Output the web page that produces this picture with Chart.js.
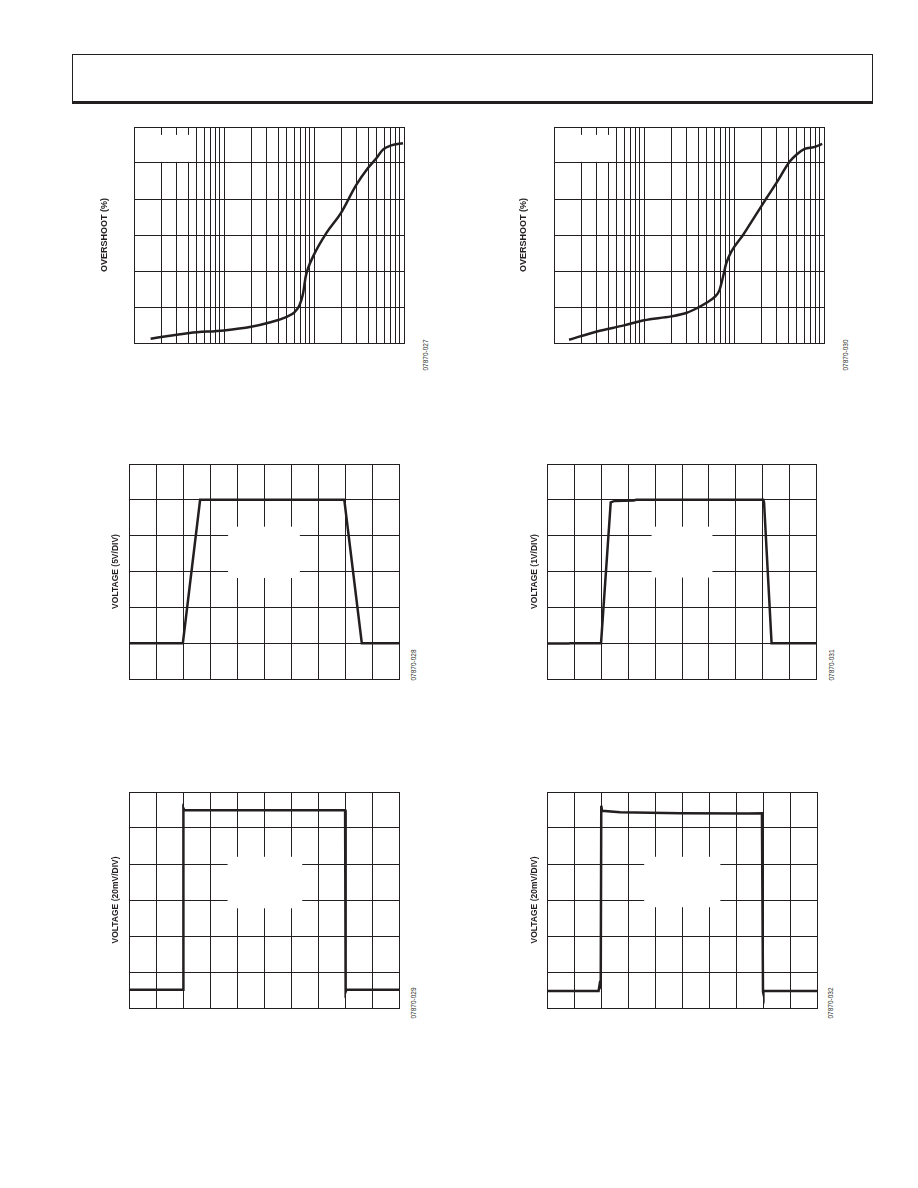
<!DOCTYPE html>
<html>
<head>
<meta charset="utf-8">
<script src="https://cdn.jsdelivr.net/npm/chart.js@4.4.1/dist/chart.umd.min.js"></script>
<style>
  html, body { margin:0; padding:0; background:#fff; }
  body { width:918px; height:1188px; position:relative; overflow:hidden; font-family:"Liberation Sans", Arial, sans-serif; }
  .header { position:absolute; left:72px; top:54px; width:799px; height:46px; border:1px solid #231f20; border-bottom:3px solid #231f20; }
  canvas { position:absolute; }
  .fig { position:absolute; font-size:6.5px; color:#231f20; white-space:nowrap; transform:translate(-50%,-50%) rotate(-90deg); }
</style>
</head>
<body>
<div class="header"></div>

<canvas id="c1"></canvas>
<canvas id="c2"></canvas>
<canvas id="c3"></canvas>
<canvas id="c4"></canvas>
<canvas id="c5"></canvas>
<canvas id="c6"></canvas>

<div class="fig" style="left:425px;top:355px">07870-027</div>
<div class="fig" style="left:845px;top:355px">07870-030</div>
<div class="fig" style="left:413px;top:665px">07870-028</div>
<div class="fig" style="left:831px;top:665px">07870-031</div>
<div class="fig" style="left:413px;top:1003px">07870-029</div>
<div class="fig" style="left:830px;top:1003px">07870-032</div>

<script>
// ===== data (y in divisions, x in freq / time divisions) =====
const logDecades = [1, 10, 100];
const logMantissas = [1, 2, 3, 4, 5, 6, 7, 8, 9];
const logMax = 1000;

// overshoot vs. load (left)
const freqA = [1.53, 3, 4.15, 10, 20, 32, 49, 61, 69, 75.5, 80.8, 85.7, 97.5, 137, 198, 295, 398, 493, 584, 723, 975];
const overA = [0.12, 0.23, 0.28, 0.35, 0.45, 0.57, 0.72, 0.86, 1.05, 1.37, 1.84, 2.07, 2.40, 3.05, 3.60, 4.39, 4.86, 5.13, 5.37, 5.49, 5.55];
// overshoot vs. load (right)
const freqB = [1.47, 3, 6, 10, 20, 30, 39, 49, 61, 69, 75.5, 82, 93, 126, 170, 229, 295, 416, 493, 610, 774, 955];
const overB = [0.09, 0.32, 0.49, 0.63, 0.74, 0.84, 0.97, 1.11, 1.28, 1.47, 1.84, 2.21, 2.53, 3.0, 3.51, 4.02, 4.44, 5.04, 5.23, 5.39, 5.44, 5.53];

// large signal 5V/DIV
const t3 = [0, 1.98, 2.62, 7.97, 8.62, 10];
const v3 = [1, 1, 5, 5, 1, 1];
// large signal 1V/DIV
const t4 = [0, 0.8, 0.85, 1.99, 2.35, 2.5, 3.2, 3.3, 8.02, 8.05, 8.33, 10];
const v4 = [0.99, 0.99, 1, 1, 4.93, 4.97, 4.98, 5, 5, 4.93, 1, 1];
// small signal 20mV/DIV (left)
const t5 = [0, 2, 2, 2.04, 8, 8.02, 8.05, 10];
const v5 = [0.51, 0.51, 5.55, 5.49, 5.49, 0.45, 0.51, 0.51];
// small signal 20mV/DIV (right)
const t6 = [0, 1.91, 1.95, 1.99, 2.01, 2.04, 2.71, 4.94, 7.41, 7.96, 8.0, 8.0, 8.03, 10];
const v6 = [0.47, 0.47, 0.66, 0.6, 5.62, 5.48, 5.44, 5.41, 5.40, 5.41, 0.45, 0.40, 0.47, 0.47];

const ink = '#231f20';
const font = '"Liberation Sans", Arial, sans-serif';

const logTicks = logDecades.flatMap(d => logMantissas.map(m => m * d)).concat([logMax]);

const pts = (xs, ys) => xs.map((x, i) => ({ x, y: ys[i] }));

// white patches where the original legend/annotation text was removed
const blankPlugin = {
  id: 'blank',
  beforeDatasetsDraw(chart, args, opts) {
    if (!opts.box) return;
    const { x: xs, y: ys } = chart.scales;
    const a = chart.chartArea;
    const [x0, x1, y0, y1] = opts.box;
    const l = Math.max(xs.getPixelForValue(x0), a.left + 1);
    const r = xs.getPixelForValue(x1);
    const t = ys.getPixelForValue(y1);
    const b = ys.getPixelForValue(y0);
    const ctx = chart.ctx;
    ctx.save();
    ctx.fillStyle = '#fff';
    ctx.fillRect(l, t, r - l, b - t);
    ctx.restore();
  }
};

function mkChart(c) {
  const canvas = document.getElementById(c.id);
  const [L, T, W, H] = c.area;
  const left = c.titleX - 10;
  const top = T - 3;
  canvas.style.left = left + 'px';
  canvas.style.top = top + 'px';
  canvas.width = Math.ceil(L + W + 3 - left);
  canvas.height = H + 6;
  const padRight = canvas.width - (L - left) - W;

  const gridOpts = { color: ink, lineWidth: 1, drawTicks: false };
  const xScale = c.log
    ? { type: 'logarithmic', min: 1, max: logMax,
        afterBuildTicks: s => { s.ticks = logTicks.map(v => ({ value: v })); } }
    : { type: 'linear', min: 0, max: 10, ticks: { stepSize: 1 } };

  return new Chart(canvas.getContext('2d'), {
    type: 'line',
    data: {
      datasets: [{
        data: c.data,
        borderColor: ink,
        borderWidth: 2.5,
        pointRadius: 0,
        fill: false,
        tension: c.log ? 0.4 : 0,
        cubicInterpolationMode: c.log ? 'monotone' : 'default'
      }]
    },
    options: {
      responsive: false,
      animation: false,
      events: [],
      layout: { padding: { left: 0, top: 3, bottom: 3, right: padRight } },
      plugins: { legend: { display: false }, tooltip: { enabled: false }, blank: { box: c.box } },
      scales: {
        x: { ...xScale,
          grid: gridOpts, border: { color: ink, width: 1 },
          ticks: { ...(xScale.ticks || {}), display: false } },
        y: { type: 'linear', min: 0, max: 6,
          grid: gridOpts, border: { color: ink, width: 1 },
          ticks: { stepSize: 1, display: false },
          title: { display: true, text: c.title, color: ink,
            font: { family: font, size: c.titleSize, weight: 'bold', lineHeight: '12px' },
            padding: { top: 4, bottom: L - c.titleX - 6 } } }
      }
    },
    plugins: [blankPlugin]
  });
}

mkChart({ id: 'c1', log: true, area: [134, 127, 270, 216], titleX: 105, titleSize: 9,
  title: 'OVERSHOOT (%)', data: pts(freqA, overA), box: [1, 4.6, 5.03, 5.78] });
mkChart({ id: 'c2', log: true, area: [553.5, 127, 270, 216], titleX: 523.5, titleSize: 9,
  title: 'OVERSHOOT (%)', data: pts(freqB, overB), box: [1, 4.6, 5.03, 5.78] });
mkChart({ id: 'c3', area: [129.5, 464, 269.5, 215], titleX: 116, titleSize: 8.5,
  title: 'VOLTAGE (5V/DIV)', data: pts(t3, v3), box: [3.66, 6.32, 2.82, 4.25] });
mkChart({ id: 'c4', area: [547.5, 464, 269, 215], titleX: 535, titleSize: 8.5,
  title: 'VOLTAGE (1V/DIV)', data: pts(t4, v4), box: [3.87, 6.13, 2.83, 4.25] });
mkChart({ id: 'c5', area: [129.5, 792, 269.5, 216], titleX: 116, titleSize: 8.5,
  title: 'VOLTAGE (20mV/DIV)', data: pts(t5, v5), box: [3.64, 6.41, 2.77, 4.2] });
mkChart({ id: 'c6', area: [547, 792, 270, 216], titleX: 535, titleSize: 8.5,
  title: 'VOLTAGE (20mV/DIV)', data: pts(t6, v6), box: [3.6, 6.42, 2.8, 4.2] });
</script>
</body>
</html>
